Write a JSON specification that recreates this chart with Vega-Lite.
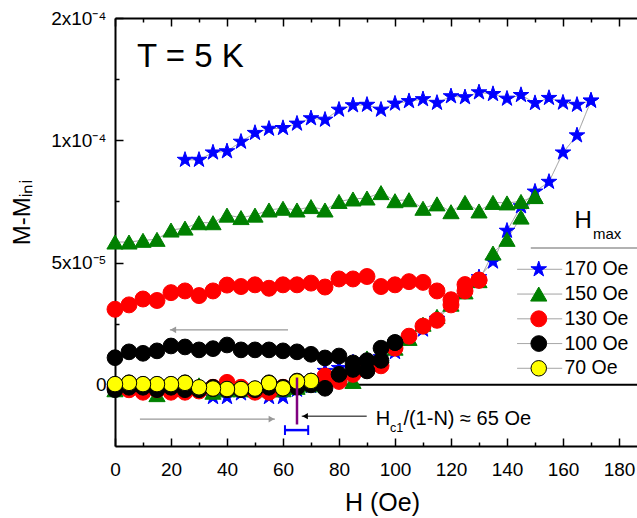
{
"$schema": "https://vega.github.io/schema/vega-lite/v6.json",
"width": 522, "height": 428,
"autosize": {"type": "none"},
"padding": {"left": 115, "top": 18, "right": 0, "bottom": 72},
"background": "white",
"config": {
  "font": "Liberation Sans",
  "view": {"stroke": null},
  "axis": {"domainColor": "#000", "domainWidth": 2, "tickColor": "#000", "tickWidth": 1.5, "labelFont": "Liberation Sans", "labelFontSize": 19, "labelColor": "#000", "titleFont": "Liberation Sans", "titleFontWeight": "normal", "titleColor": "#000", "grid": false, "labelFlush": false, "labelOverlap": false},
  "legend": {"labelFont": "Liberation Sans", "labelFontSize": 19.5, "labelColor": "#000", "padding": 0, "rowPadding": 4.75, "clipHeight": 20, "labelLimit": 300}
},
"datasets": {
  "curves": [
    {"series":"170 Oe","branch":"up","H":0,"M":-2e-6},{"series":"170 Oe","branch":"up","H":5,"M":-1.5e-6},{"series":"170 Oe","branch":"up","H":10,"M":-2.5e-6},{"series":"170 Oe","branch":"up","H":15,"M":-3e-6},{"series":"170 Oe","branch":"up","H":20,"M":-2e-6},{"series":"170 Oe","branch":"up","H":25,"M":-2.5e-6},{"series":"170 Oe","branch":"up","H":30,"M":-2e-6},{"series":"170 Oe","branch":"up","H":35,"M":-5e-6},{"series":"170 Oe","branch":"up","H":40,"M":-5e-6},{"series":"170 Oe","branch":"up","H":45,"M":-3.5e-6},{"series":"170 Oe","branch":"up","H":50,"M":-3e-6},{"series":"170 Oe","branch":"up","H":55,"M":-5e-6},{"series":"170 Oe","branch":"up","H":60,"M":-5e-6},{"series":"170 Oe","branch":"up","H":65,"M":-2e-6},{"series":"170 Oe","branch":"up","H":70,"M":-0.5e-6},{"series":"170 Oe","branch":"up","H":75,"M":5.7e-6},{"series":"170 Oe","branch":"up","H":80,"M":6.9e-6},{"series":"170 Oe","branch":"up","H":85,"M":9.2e-6},{"series":"170 Oe","branch":"up","H":90,"M":10e-6},{"series":"170 Oe","branch":"up","H":95,"M":11.3e-6},{"series":"170 Oe","branch":"up","H":100,"M":13.4e-6},{"series":"170 Oe","branch":"up","H":105,"M":19e-6},{"series":"170 Oe","branch":"up","H":110,"M":22.6e-6},{"series":"170 Oe","branch":"up","H":115,"M":27e-6},{"series":"170 Oe","branch":"up","H":120,"M":33e-6},{"series":"170 Oe","branch":"up","H":125,"M":39e-6},{"series":"170 Oe","branch":"up","H":130,"M":44e-6},{"series":"170 Oe","branch":"up","H":135,"M":50.4e-6},{"series":"170 Oe","branch":"up","H":140,"M":63e-6},{"series":"170 Oe","branch":"up","H":145,"M":73e-6},{"series":"170 Oe","branch":"up","H":150,"M":79e-6},{"series":"170 Oe","branch":"up","H":155,"M":83e-6},{"series":"170 Oe","branch":"up","H":160,"M":95e-6},{"series":"170 Oe","branch":"up","H":165,"M":102e-6},{"series":"170 Oe","branch":"up","H":170,"M":116.2e-6},
    {"series":"170 Oe","branch":"down","H":170,"M":116.2e-6},{"series":"170 Oe","branch":"down","H":165,"M":114.5e-6},{"series":"170 Oe","branch":"down","H":160,"M":115.4e-6},{"series":"170 Oe","branch":"down","H":155,"M":117.3e-6},{"series":"170 Oe","branch":"down","H":150,"M":115.2e-6},{"series":"170 Oe","branch":"down","H":145,"M":118.5e-6},{"series":"170 Oe","branch":"down","H":140,"M":117e-6},{"series":"170 Oe","branch":"down","H":135,"M":118.9e-6},{"series":"170 Oe","branch":"down","H":130,"M":119.6e-6},{"series":"170 Oe","branch":"down","H":125,"M":117.6e-6},{"series":"170 Oe","branch":"down","H":120,"M":118e-6},{"series":"170 Oe","branch":"down","H":115,"M":115.3e-6},{"series":"170 Oe","branch":"down","H":110,"M":116.8e-6},{"series":"170 Oe","branch":"down","H":105,"M":116e-6},{"series":"170 Oe","branch":"down","H":100,"M":115e-6},{"series":"170 Oe","branch":"down","H":95,"M":112.5e-6},{"series":"170 Oe","branch":"down","H":90,"M":114.5e-6},{"series":"170 Oe","branch":"down","H":85,"M":114.3e-6},{"series":"170 Oe","branch":"down","H":80,"M":112.5e-6},{"series":"170 Oe","branch":"down","H":75,"M":108.4e-6},{"series":"170 Oe","branch":"down","H":70,"M":109e-6},{"series":"170 Oe","branch":"down","H":65,"M":106.8e-6},{"series":"170 Oe","branch":"down","H":60,"M":105e-6},{"series":"170 Oe","branch":"down","H":55,"M":104.7e-6},{"series":"170 Oe","branch":"down","H":50,"M":103e-6},{"series":"170 Oe","branch":"down","H":45,"M":99.4e-6},{"series":"170 Oe","branch":"down","H":40,"M":95.5e-6},{"series":"170 Oe","branch":"down","H":35,"M":95e-6},{"series":"170 Oe","branch":"down","H":30,"M":92e-6},{"series":"170 Oe","branch":"down","H":25,"M":92e-6},
    {"series":"150 Oe","branch":"up","H":0,"M":-2e-6},{"series":"150 Oe","branch":"up","H":5,"M":-1e-6},{"series":"150 Oe","branch":"up","H":10,"M":-1e-6},{"series":"150 Oe","branch":"up","H":15,"M":-4e-6},{"series":"150 Oe","branch":"up","H":20,"M":-1e-6},{"series":"150 Oe","branch":"up","H":25,"M":-1e-6},{"series":"150 Oe","branch":"up","H":30,"M":0},{"series":"150 Oe","branch":"up","H":35,"M":-3e-6},{"series":"150 Oe","branch":"up","H":40,"M":-2e-6},{"series":"150 Oe","branch":"up","H":45,"M":-2e-6},{"series":"150 Oe","branch":"up","H":50,"M":-2e-6},{"series":"150 Oe","branch":"up","H":55,"M":0},{"series":"150 Oe","branch":"up","H":60,"M":-2e-6},{"series":"150 Oe","branch":"up","H":65,"M":-1e-6},{"series":"150 Oe","branch":"up","H":70,"M":0},{"series":"150 Oe","branch":"up","H":75,"M":3e-6},{"series":"150 Oe","branch":"up","H":80,"M":4e-6},{"series":"150 Oe","branch":"up","H":85,"M":1.4e-6},{"series":"150 Oe","branch":"up","H":90,"M":11e-6},{"series":"150 Oe","branch":"up","H":95,"M":12e-6},{"series":"150 Oe","branch":"up","H":100,"M":15e-6},{"series":"150 Oe","branch":"up","H":105,"M":19e-6},{"series":"150 Oe","branch":"up","H":110,"M":24.8e-6},{"series":"150 Oe","branch":"up","H":115,"M":28e-6},{"series":"150 Oe","branch":"up","H":120,"M":33e-6},{"series":"150 Oe","branch":"up","H":125,"M":38e-6},{"series":"150 Oe","branch":"up","H":130,"M":42.6e-6},{"series":"150 Oe","branch":"up","H":135,"M":53.9e-6},{"series":"150 Oe","branch":"up","H":140,"M":59.5e-6},{"series":"150 Oe","branch":"up","H":145,"M":68.6e-6},{"series":"150 Oe","branch":"up","H":150,"M":77e-6},
    {"series":"150 Oe","branch":"down","H":150,"M":77e-6},{"series":"150 Oe","branch":"down","H":145,"M":75e-6},{"series":"150 Oe","branch":"down","H":140,"M":74.4e-6},{"series":"150 Oe","branch":"down","H":135,"M":74.6e-6},{"series":"150 Oe","branch":"down","H":130,"M":71.1e-6},{"series":"150 Oe","branch":"down","H":125,"M":74.6e-6},{"series":"150 Oe","branch":"down","H":120,"M":70.8e-6},{"series":"150 Oe","branch":"down","H":115,"M":74e-6},{"series":"150 Oe","branch":"down","H":110,"M":72.2e-6},{"series":"150 Oe","branch":"down","H":105,"M":75.7e-6},{"series":"150 Oe","branch":"down","H":100,"M":75.3e-6},{"series":"150 Oe","branch":"down","H":95,"M":78.6e-6},{"series":"150 Oe","branch":"down","H":90,"M":76.4e-6},{"series":"150 Oe","branch":"down","H":85,"M":76e-6},{"series":"150 Oe","branch":"down","H":80,"M":75e-6},{"series":"150 Oe","branch":"down","H":75,"M":71.5e-6},{"series":"150 Oe","branch":"down","H":70,"M":72.9e-6},{"series":"150 Oe","branch":"down","H":65,"M":71.5e-6},{"series":"150 Oe","branch":"down","H":60,"M":72.2e-6},{"series":"150 Oe","branch":"down","H":55,"M":71.5e-6},{"series":"150 Oe","branch":"down","H":50,"M":69.4e-6},{"series":"150 Oe","branch":"down","H":45,"M":68.4e-6},{"series":"150 Oe","branch":"down","H":40,"M":69.4e-6},{"series":"150 Oe","branch":"down","H":35,"M":66.3e-6},{"series":"150 Oe","branch":"down","H":30,"M":66.3e-6},{"series":"150 Oe","branch":"down","H":25,"M":64.1e-6},{"series":"150 Oe","branch":"down","H":20,"M":63.3e-6},{"series":"150 Oe","branch":"down","H":15,"M":59.5e-6},{"series":"150 Oe","branch":"down","H":10,"M":59.1e-6},{"series":"150 Oe","branch":"down","H":5,"M":58.4e-6},{"series":"150 Oe","branch":"down","H":0,"M":58.4e-6},
    {"series":"130 Oe","branch":"up","H":0,"M":-1e-6},{"series":"130 Oe","branch":"up","H":5,"M":-2e-6},{"series":"130 Oe","branch":"up","H":10,"M":-3e-6},{"series":"130 Oe","branch":"up","H":15,"M":-2e-6},{"series":"130 Oe","branch":"up","H":20,"M":-3e-6},{"series":"130 Oe","branch":"up","H":25,"M":-3e-6},{"series":"130 Oe","branch":"up","H":30,"M":-2.5e-6},{"series":"130 Oe","branch":"up","H":35,"M":-1e-6},{"series":"130 Oe","branch":"up","H":40,"M":1e-6},{"series":"130 Oe","branch":"up","H":45,"M":-1e-6},{"series":"130 Oe","branch":"up","H":50,"M":-3e-6},{"series":"130 Oe","branch":"up","H":55,"M":-3e-6},{"series":"130 Oe","branch":"up","H":60,"M":-1e-6},{"series":"130 Oe","branch":"up","H":65,"M":0},{"series":"130 Oe","branch":"up","H":70,"M":0.5e-6},{"series":"130 Oe","branch":"up","H":75,"M":3.6e-6},{"series":"130 Oe","branch":"up","H":80,"M":1.4e-6},{"series":"130 Oe","branch":"up","H":85,"M":4.3e-6},{"series":"130 Oe","branch":"up","H":90,"M":6e-6},{"series":"130 Oe","branch":"up","H":95,"M":7.8e-6},{"series":"130 Oe","branch":"up","H":100,"M":15e-6},{"series":"130 Oe","branch":"up","H":105,"M":19.9e-6},{"series":"130 Oe","branch":"up","H":110,"M":24e-6},{"series":"130 Oe","branch":"up","H":115,"M":26.4e-6},{"series":"130 Oe","branch":"up","H":120,"M":32.7e-6},{"series":"130 Oe","branch":"up","H":125,"M":38.4e-6},{"series":"130 Oe","branch":"up","H":130,"M":42.8e-6},
    {"series":"130 Oe","branch":"down","H":130,"M":42.8e-6},{"series":"130 Oe","branch":"down","H":125,"M":41e-6},{"series":"130 Oe","branch":"down","H":120,"M":34.8e-6},{"series":"130 Oe","branch":"down","H":115,"M":38.4e-6},{"series":"130 Oe","branch":"down","H":110,"M":41.9e-6},{"series":"130 Oe","branch":"down","H":105,"M":42.2e-6},{"series":"130 Oe","branch":"down","H":100,"M":40.9e-6},{"series":"130 Oe","branch":"down","H":95,"M":40.2e-6},{"series":"130 Oe","branch":"down","H":90,"M":44.3e-6},{"series":"130 Oe","branch":"down","H":85,"M":43.3e-6},{"series":"130 Oe","branch":"down","H":80,"M":43.3e-6},{"series":"130 Oe","branch":"down","H":75,"M":40e-6},{"series":"130 Oe","branch":"down","H":70,"M":41.6e-6},{"series":"130 Oe","branch":"down","H":65,"M":40.9e-6},{"series":"130 Oe","branch":"down","H":60,"M":40.9e-6},{"series":"130 Oe","branch":"down","H":55,"M":39.5e-6},{"series":"130 Oe","branch":"down","H":50,"M":40.9e-6},{"series":"130 Oe","branch":"down","H":45,"M":40.2e-6},{"series":"130 Oe","branch":"down","H":40,"M":40.8e-6},{"series":"130 Oe","branch":"down","H":35,"M":38.4e-6},{"series":"130 Oe","branch":"down","H":30,"M":36.5e-6},{"series":"130 Oe","branch":"down","H":25,"M":38.4e-6},{"series":"130 Oe","branch":"down","H":20,"M":37.7e-6},{"series":"130 Oe","branch":"down","H":15,"M":34.5e-6},{"series":"130 Oe","branch":"down","H":10,"M":35.1e-6},{"series":"130 Oe","branch":"down","H":5,"M":32.7e-6},{"series":"130 Oe","branch":"down","H":0,"M":30.9e-6},
    {"series":"100 Oe","branch":"up","H":0,"M":-2e-6},{"series":"100 Oe","branch":"up","H":5,"M":-1e-6},{"series":"100 Oe","branch":"up","H":10,"M":-1e-6},{"series":"100 Oe","branch":"up","H":15,"M":-2e-6},{"series":"100 Oe","branch":"up","H":20,"M":-1e-6},{"series":"100 Oe","branch":"up","H":25,"M":-2e-6},{"series":"100 Oe","branch":"up","H":30,"M":-2e-6},{"series":"100 Oe","branch":"up","H":35,"M":-1e-6},{"series":"100 Oe","branch":"up","H":40,"M":-2e-6},{"series":"100 Oe","branch":"up","H":45,"M":-2e-6},{"series":"100 Oe","branch":"up","H":50,"M":-2e-6},{"series":"100 Oe","branch":"up","H":55,"M":-1e-6},{"series":"100 Oe","branch":"up","H":60,"M":-1e-6},{"series":"100 Oe","branch":"up","H":65,"M":-1e-6},{"series":"100 Oe","branch":"up","H":70,"M":0},{"series":"100 Oe","branch":"up","H":75,"M":-1.4e-6},{"series":"100 Oe","branch":"up","H":80,"M":4.3e-6},{"series":"100 Oe","branch":"up","H":85,"M":6.3e-6},{"series":"100 Oe","branch":"up","H":90,"M":5.7e-6},{"series":"100 Oe","branch":"up","H":95,"M":10e-6},{"series":"100 Oe","branch":"up","H":100,"M":17.3e-6},
    {"series":"100 Oe","branch":"down","H":100,"M":17.3e-6},{"series":"100 Oe","branch":"down","H":95,"M":15e-6},{"series":"100 Oe","branch":"down","H":90,"M":9.9e-6},{"series":"100 Oe","branch":"down","H":85,"M":9e-6},{"series":"100 Oe","branch":"down","H":80,"M":11.8e-6},{"series":"100 Oe","branch":"down","H":75,"M":11e-6},{"series":"100 Oe","branch":"down","H":70,"M":12.5e-6},{"series":"100 Oe","branch":"down","H":65,"M":13.5e-6},{"series":"100 Oe","branch":"down","H":60,"M":13.9e-6},{"series":"100 Oe","branch":"down","H":55,"M":14.3e-6},{"series":"100 Oe","branch":"down","H":50,"M":14.3e-6},{"series":"100 Oe","branch":"down","H":45,"M":14.3e-6},{"series":"100 Oe","branch":"down","H":40,"M":16.3e-6},{"series":"100 Oe","branch":"down","H":35,"M":14.8e-6},{"series":"100 Oe","branch":"down","H":30,"M":14.3e-6},{"series":"100 Oe","branch":"down","H":25,"M":15.5e-6},{"series":"100 Oe","branch":"down","H":20,"M":15.9e-6},{"series":"100 Oe","branch":"down","H":15,"M":13.9e-6},{"series":"100 Oe","branch":"down","H":10,"M":12.9e-6},{"series":"100 Oe","branch":"down","H":5,"M":13.5e-6},{"series":"100 Oe","branch":"down","H":0,"M":11.1e-6},
    {"series":"70 Oe","branch":"up","H":0,"M":0.2e-6},{"series":"70 Oe","branch":"up","H":5,"M":0.9e-6},{"series":"70 Oe","branch":"up","H":10,"M":0.2e-6},{"series":"70 Oe","branch":"up","H":15,"M":0.2e-6},{"series":"70 Oe","branch":"up","H":20,"M":0.2e-6},{"series":"70 Oe","branch":"up","H":25,"M":0.9e-6},{"series":"70 Oe","branch":"up","H":30,"M":-1.2e-6},{"series":"70 Oe","branch":"up","H":35,"M":-1.6e-6},{"series":"70 Oe","branch":"up","H":40,"M":-1.8e-6},{"series":"70 Oe","branch":"up","H":45,"M":-1.8e-6},{"series":"70 Oe","branch":"up","H":50,"M":-1.6e-6},{"series":"70 Oe","branch":"up","H":55,"M":0.9e-6},{"series":"70 Oe","branch":"up","H":60,"M":-1.6e-6},{"series":"70 Oe","branch":"up","H":65,"M":1.6e-6},{"series":"70 Oe","branch":"up","H":70,"M":1.6e-6},
    {"series":"70 Oe","branch":"down","H":70,"M":1.6e-6},{"series":"70 Oe","branch":"down","H":65,"M":1.4e-6},{"series":"70 Oe","branch":"down","H":60,"M":-1.4e-6},{"series":"70 Oe","branch":"down","H":55,"M":0.7e-6},{"series":"70 Oe","branch":"down","H":50,"M":-1.5e-6},{"series":"70 Oe","branch":"down","H":45,"M":-1.7e-6},{"series":"70 Oe","branch":"down","H":40,"M":-1.7e-6},{"series":"70 Oe","branch":"down","H":35,"M":-1.5e-6},{"series":"70 Oe","branch":"down","H":30,"M":-1e-6},{"series":"70 Oe","branch":"down","H":25,"M":0.8e-6},{"series":"70 Oe","branch":"down","H":20,"M":0.3e-6},{"series":"70 Oe","branch":"down","H":15,"M":0.3e-6},{"series":"70 Oe","branch":"down","H":10,"M":0.3e-6},{"series":"70 Oe","branch":"down","H":5,"M":0.8e-6},{"series":"70 Oe","branch":"down","H":0,"M":0.3e-6}
  ]
},
"resolve": {"axis": {"x": "independent", "y": "independent"}},
"layer": [
  {
    "data": {"values": [{}]},
    "mark": {"type": "rule", "color": "#000", "strokeWidth": 2},
    "encoding": {"y": {"datum": 0, "type": "quantitative", "scale": {"domain": [-2.5e-5, 1.5e-4], "nice": false, "zero": false}, "axis": null}}
  },
  {
    "data": {"name": "curves"},
    "mark": {"type": "line", "color": "#999999", "strokeWidth": 1},
    "encoding": {
      "x": {"field": "H", "type": "quantitative", "scale": {"domain": [0, 186.43], "nice": false, "zero": false},
        "axis": {"orient": "bottom", "values": [0,20,40,60,80,100,120,140,160,180], "ticks": false, "labelPadding": 14, "title": "H (Oe)", "titleFontSize": 25, "titleX": 267, "titleY": 64, "titleBaseline": "alphabetic", "titleAnchor": "middle"}},
      "y": {"field": "M", "type": "quantitative", "scale": {"domain": [-2.5e-5, 1.5e-4], "nice": false, "zero": false},
        "axis": {"orient": "left", "values": [0, 5e-5, 1e-4, 1.5e-4], "labelExpr": "abs(datum.value) < 1e-12 ? '0' : abs(datum.value - 5e-5) < 1e-12 ? '5x10⁻⁵' : abs(datum.value - 1e-4) < 1e-12 ? '1x10⁻⁴' : '2x10⁻⁴'", "ticks": false, "labelPadding": 9, "title": "M-Mᵢₙᵢ", "titleFontSize": 24, "titleX": -93, "titleY": 194, "titleBaseline": "middle", "titleAlign": "center", "titleAngle": -90}},
      "detail": {"field": "branch", "type": "nominal"},
      "strokeDash": {"field": "series", "type": "nominal", "scale": {"range": [[1,0],[1,0],[1,0],[1,0],[1,0]]},
        "legend": {"title": null, "orient": "none", "legendX": 401.7, "legendY": 241.3, "symbolType": "stroke", "symbolSize": 2025, "symbolStrokeColor": "#999999", "symbolStrokeWidth": 1, "labelExpr": "''", "zindex": 1}}
    }
  },
  {
    "data": {"name": "curves"},
    "mark": {"type": "point", "filled": true, "opacity": 1},
    "encoding": {
      "x": {"field": "H", "type": "quantitative", "scale": {"domain": [0, 186.43], "nice": false, "zero": false},
        "axis": {"orient": "top", "values": [0,20,40,60,80,100,120,140,160,180], "ticks": false, "labels": false, "title": null}},
      "y": {"field": "M", "type": "quantitative", "scale": {"domain": [-2.5e-5, 1.5e-4], "nice": false, "zero": false}, "axis": null},
      "shape": {"field": "series", "type": "nominal", "scale": {"domain": ["170 Oe","150 Oe","130 Oe","100 Oe","70 Oe"], "range": ["M0,-1L0.225,-0.309L0.951,-0.309L0.363,0.118L0.588,0.809L0,0.382L-0.588,0.809L-0.363,0.118L-0.951,-0.309L-0.225,-0.309Z", "triangle-up", "circle", "circle", "circle"]},
        "legend": {"title": null, "orient": "none", "legendX": 414, "legendY": 241.3, "labelOffset": 16, "zindex": 2}},
      "fill": {"field": "series", "type": "nominal", "scale": {"domain": ["170 Oe","150 Oe","130 Oe","100 Oe","70 Oe"], "range": ["#0000ff","#008000","#ff0000","#000000","#ffff00"]},
        "legend": {"title": null, "orient": "none", "legendX": 414, "legendY": 241.3, "labelOffset": 16, "zindex": 2}},
      "stroke": {"field": "series", "type": "nominal", "scale": {"domain": ["170 Oe","150 Oe","130 Oe","100 Oe","70 Oe"], "range": ["#0000ff","#008000","#ff0000","#000000","#000000"]},
        "legend": {"title": null, "orient": "none", "legendX": 414, "legendY": 241.3, "labelOffset": 16, "zindex": 2}},
      "strokeWidth": {"field": "series", "type": "nominal", "scale": {"domain": ["170 Oe","150 Oe","130 Oe","100 Oe","70 Oe"], "range": [1, 1, 1, 1, 2.8]},
        "legend": {"title": null, "orient": "none", "legendX": 414, "legendY": 241.3, "labelOffset": 16, "zindex": 2}},
      "size": {"field": "series", "type": "nominal", "scale": {"domain": ["170 Oe","150 Oe","130 Oe","100 Oe","70 Oe"], "range": [270, 240, 175, 175, 110]},
        "legend": {"title": null, "orient": "none", "legendX": 414, "legendY": 241.3, "labelOffset": 16, "zindex": 2}}
    }
  },
  {
    "data": {"values": [{"h1": 19.6, "h2": 61.8, "m": 22.5e-6}, {"h1": 8.9, "h2": 57.1, "m": -14e-6}]},
    "mark": {"type": "rule", "color": "#999999", "strokeWidth": 1.2},
    "encoding": {
      "x": {"field": "h1", "type": "quantitative", "axis": {"orient": "bottom", "offset": -8, "values": [0,20,40,60,80,100,120,140,160,180], "tickSize": 8, "labels": false, "domain": false, "title": null}},
      "x2": {"field": "h2"},
      "y": {"field": "m", "type": "quantitative", "axis": {"orient": "left", "offset": -8, "values": [0, 5e-5, 1e-4, 1.5e-4], "tickSize": 8, "labels": false, "domain": false, "title": null}}
    }
  },
  {
    "data": {"values": [{"h": 20.8, "m": 22.5e-6}]},
    "mark": {"type": "point", "shape": "triangle-left", "filled": true, "color": "#999999", "opacity": 1, "size": 45},
    "encoding": {
      "x": {"field": "h", "type": "quantitative", "axis": {"orient": "bottom", "offset": -4, "values": [10,30,50,70,90,110,130,150,170], "tickSize": 4, "labels": false, "domain": false, "title": null}},
      "y": {"field": "m", "type": "quantitative", "axis": {"orient": "left", "offset": -4, "values": [2.5e-5, 7.5e-5, 1.25e-4], "tickSize": 4, "labels": false, "domain": false, "title": null}}
    }
  },
  {
    "data": {"values": [{"h": 55.9, "m": -14e-6}]},
    "mark": {"type": "point", "shape": "triangle-right", "filled": true, "color": "#999999", "opacity": 1, "size": 45},
    "encoding": {
      "x": {"field": "h", "type": "quantitative", "axis": {"orient": "top", "offset": -8, "values": [0,20,40,60,80,100,120,140,160,180], "tickSize": 8, "labels": false, "domain": false, "title": null}},
      "y": {"field": "m", "type": "quantitative", "axis": null}
    }
  },
  {
    "data": {"values": [{"h1": 66.7, "h2": 89.9, "m": -12.8e-6}]},
    "mark": {"type": "rule", "color": "#000000", "strokeWidth": 1},
    "encoding": {
      "x": {"field": "h1", "type": "quantitative", "axis": {"orient": "top", "offset": -4, "values": [10,30,50,70,90,110,130,150,170], "tickSize": 4, "labels": false, "domain": false, "title": null}},
      "x2": {"field": "h2"},
      "y": {"field": "m", "type": "quantitative", "axis": null}
    }
  },
  {
    "data": {"values": [{"h": 67.9, "m": -12.8e-6}]},
    "mark": {"type": "point", "shape": "triangle-left", "filled": true, "color": "#000000", "opacity": 1, "size": 40},
    "encoding": {"x": {"field": "h", "type": "quantitative", "axis": null}, "y": {"field": "m", "type": "quantitative", "axis": null}}
  },
  {
    "data": {"values": [{"h": 65, "m1": 3e-6, "m2": -16.2e-6}]},
    "mark": {"type": "rule", "color": "#800080", "strokeWidth": 2.5},
    "encoding": {"x": {"field": "h", "type": "quantitative", "axis": null}, "y": {"field": "m1", "type": "quantitative", "axis": null}, "y2": {"field": "m2"}}
  },
  {
    "data": {"values": [{"h1": 60.7, "h2": 69, "m": -18.5e-6}]},
    "mark": {"type": "rule", "color": "#0000ff", "strokeWidth": 2.5},
    "encoding": {"x": {"field": "h1", "type": "quantitative", "axis": null}, "x2": {"field": "h2"}, "y": {"field": "m", "type": "quantitative", "axis": null}}
  },
  {
    "data": {"values": [{"h": 60.7, "m1": -16.5e-6, "m2": -20.5e-6}, {"h": 69, "m1": -16.5e-6, "m2": -20.5e-6}]},
    "mark": {"type": "rule", "color": "#0000ff", "strokeWidth": 2},
    "encoding": {"x": {"field": "h", "type": "quantitative", "axis": null}, "y": {"field": "m1", "type": "quantitative", "axis": null}, "y2": {"field": "m2"}}
  },
  {
    "data": {"values": [{"h1": 148.5, "h2": 186.43, "m": 56e-6}]},
    "mark": {"type": "rule", "color": "#999999", "strokeWidth": 1.5},
    "encoding": {"x": {"field": "h1", "type": "quantitative", "axis": null}, "x2": {"field": "h2"}, "y": {"field": "m", "type": "quantitative", "axis": null}}
  },
  {
    "data": {"values": [{"h": 7.9, "m": 129.8e-6, "label": "T = 5 K"}]},
    "mark": {"type": "text", "align": "left", "baseline": "alphabetic", "fontSize": 33, "font": "Liberation Sans", "color": "#000"},
    "encoding": {"x": {"field": "h", "type": "quantitative", "axis": null}, "y": {"field": "m", "type": "quantitative", "axis": null}, "text": {"field": "label"}}
  },
  {
    "data": {"values": [{"h": 93.1, "m": -16.6e-6, "label": "H"}, {"h": 103, "m": -16.6e-6, "label": "/(1-N) ≈ 65 Oe"}]},
    "mark": {"type": "text", "align": "left", "baseline": "alphabetic", "fontSize": 20, "font": "Liberation Sans", "color": "#000"},
    "encoding": {"x": {"field": "h", "type": "quantitative", "axis": null}, "y": {"field": "m", "type": "quantitative", "axis": null}, "text": {"field": "label"}}
  },
  {
    "data": {"values": [{"h": 98.2, "m": -19.3e-6, "label": "c1"}]},
    "mark": {"type": "text", "align": "left", "baseline": "alphabetic", "fontSize": 12.5, "font": "Liberation Sans", "color": "#000"},
    "encoding": {"x": {"field": "h", "type": "quantitative", "axis": null}, "y": {"field": "m", "type": "quantitative", "axis": null}, "text": {"field": "label"}}
  },
  {
    "data": {"values": [{"h": 164.1, "m": 64.3e-6, "label": "H"}]},
    "mark": {"type": "text", "align": "left", "baseline": "alphabetic", "fontSize": 24, "font": "Liberation Sans", "color": "#000"},
    "encoding": {"x": {"field": "h", "type": "quantitative", "axis": null}, "y": {"field": "m", "type": "quantitative", "axis": null}, "text": {"field": "label"}}
  },
  {
    "data": {"values": [{"h": 170.7, "m": 59.6e-6, "label": "max"}]},
    "mark": {"type": "text", "align": "left", "baseline": "alphabetic", "fontSize": 15, "font": "Liberation Sans", "color": "#000"},
    "encoding": {"x": {"field": "h", "type": "quantitative", "axis": null}, "y": {"field": "m", "type": "quantitative", "axis": null}, "text": {"field": "label"}}
  }
]
}
